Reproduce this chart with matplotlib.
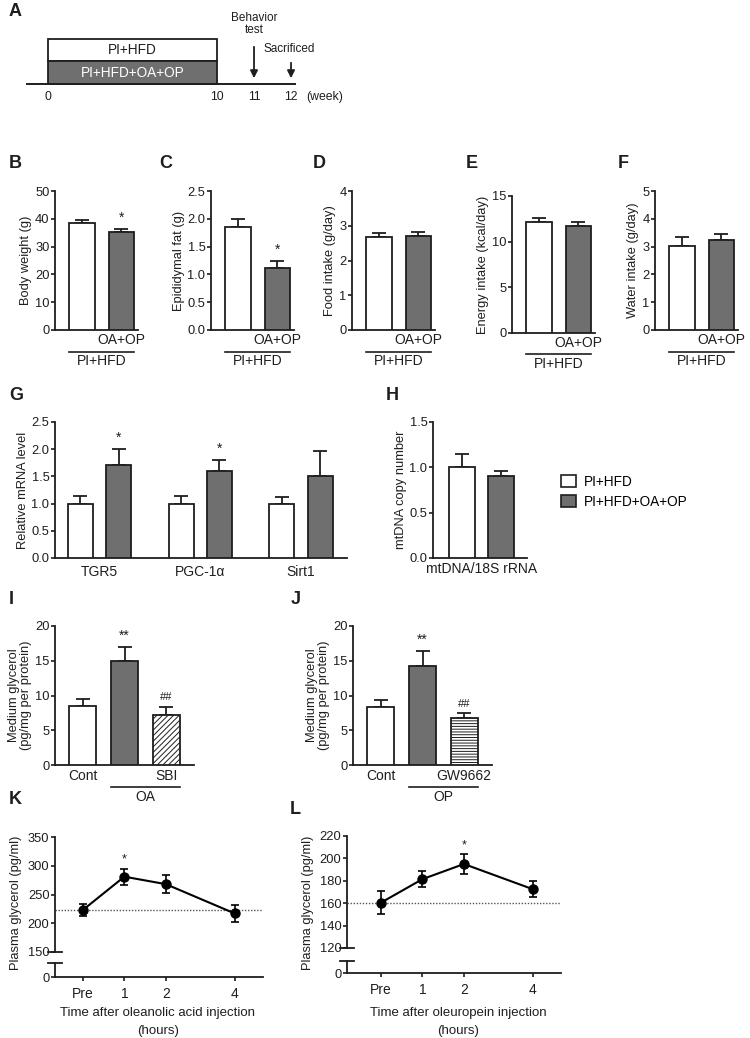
import numpy as np
import matplotlib
matplotlib.use('Agg')
import matplotlib.pyplot as plt
from matplotlib.patches import Rectangle, Patch

plt.rcParams['font.family'] = ['Liberation Sans', 'DejaVu Sans']
plt.rcParams['hatch.linewidth'] = 0.7

W, H = 750, 1038
EDGE = '#1e1e1e'
GRAY = '#6f6f6f'
TXT = '#1e1e1e'
FS_TICK = 9.3
FS_LBL = 9.3
FS_X = 10

# ---- data ----
groups = ['PI+HFD', 'PI+HFD+OA+OP']
timeline_weeks = ['0', '10', '11', '12']

body_weight, body_weight_err = [38.6, 35.3], [0.9, 1.0]
epi_fat, epi_fat_err = [1.86, 1.11], [0.14, 0.14]
food_intake, food_intake_err = [2.69, 2.71], [0.09, 0.10]
energy_intake, energy_intake_err = [12.2, 11.7], [0.37, 0.44]
water_intake, water_intake_err = [3.03, 3.24], [0.33, 0.21]

genes = ['TGR5', 'PGC-1α', 'Sirt1']
mrna_ctrl, mrna_ctrl_err = [1.0, 1.0, 1.0], [0.14, 0.14, 0.12]
mrna_trt, mrna_trt_err = [1.71, 1.60, 1.51], [0.29, 0.20, 0.46]
mrna_sig = ['*', '*', '']

mtdna, mtdna_err = [1.0, 0.90], [0.15, 0.06]

glyc_oa, glyc_oa_err = [8.5, 15.0, 7.2], [1.0, 2.0, 1.2]
glyc_oa_sig = ['', '**', '##']
glyc_op, glyc_op_err = [8.4, 14.3, 6.8], [0.95, 2.1, 0.65]
glyc_op_sig = ['', '**', '##']

time_labels = ['Pre', '1', '2', '4']
plasma_oa, plasma_oa_err = [223, 281, 268, 217], [10, 14, 16, 14.5]
plasma_oa_sig = ['', '*', '', '']
plasma_op, plasma_op_err = [160.5, 181.5, 195, 172.5], [10, 7, 9, 7]
plasma_op_sig = ['', '', '*', '']

fig = plt.figure(figsize=(7.5, 10.38), dpi=100)


def add_ax(l, t, r, b):
    return fig.add_axes([l / W, 1 - b / H, (r - l) / W, (b - t) / H])


def letter(x, y, s):
    fig.text(x / W, 1 - y / H, s, fontsize=13, fontweight='bold',
             ha='left', va='center', color=TXT)


def style(ax, bottom=True):
    for s in ['top', 'right']:
        ax.spines[s].set_visible(False)
    ax.spines['bottom'].set_visible(bottom)
    for s in ['left', 'bottom']:
        ax.spines[s].set_linewidth(1.3)
        ax.spines[s].set_color(EDGE)
    ax.tick_params(axis='y', length=3, width=1.2, color=EDGE,
                   labelsize=FS_TICK, pad=1, labelcolor=TXT)
    ax.tick_params(axis='x', length=0, labelsize=FS_X, pad=5, labelcolor=TXT)


def bars(ax, x, vals, errs, fills, hatches, sig, ylim, yticks, ylabel, xlim,
         fmt='{:g}', sig_off=None):
    b = ax.bar(x, vals, width=0.65, color=fills, edgecolor=EDGE,
               linewidth=1.3, zorder=3)
    for p, h in zip(b, hatches):
        if h:
            p.set_hatch(h)
    for xi, v, e in zip(x, vals, errs):
        ax.errorbar(xi, v, yerr=[[0], [e]], fmt='none', ecolor=EDGE,
                    elinewidth=1.3, capsize=5, capthick=1.3, zorder=2)
    off = sig_off if sig_off is not None else (ylim[1] - ylim[0]) * 0.03
    for xi, v, e, s in zip(x, vals, errs, sig):
        if s:
            fs = 8 if '#' in s else 10
            ax.text(xi, v + e + off, s, ha='center', va='bottom',
                    fontsize=fs, color=TXT)
    ax.set_ylim(*ylim)
    ax.set_yticks(yticks)
    ax.set_yticklabels([fmt.format(t) for t in yticks])
    ax.set_xlim(*xlim)
    ax.set_ylabel(ylabel, fontsize=FS_LBL, labelpad=2, color=TXT,
                  linespacing=1.0)
    style(ax)


def under_two(ax, top_lbl, bot_lbl):
    tr = ax.get_xaxis_transform()
    ax.set_xticks([])
    ax.text(1, -0.075, top_lbl, transform=tr, ha='center', va='center',
            fontsize=FS_X, color=TXT)
    ax.plot([-0.325, 1.325], [-0.155, -0.155], transform=tr, color=EDGE,
            lw=1.2, clip_on=False)
    ax.text(0.5, -0.225, bot_lbl, transform=tr, ha='center', va='center',
            fontsize=FS_X, color=TXT)


# ---- A: timeline ----
axA = add_ax(0, 0, 750, 110)
axA.axis('off')
px_per_week = 16.9
axA.set_xlim(-48 / px_per_week, (750 - 48) / px_per_week)
axA.set_ylim(110, 0)
week_pos = [0, 10, 12.19, 14.38]
axA.add_patch(Rectangle((0, 39), 10, 22, facecolor='white', edgecolor=EDGE, lw=1.3))
axA.add_patch(Rectangle((0, 61), 10, 23, facecolor=GRAY, edgecolor=EDGE, lw=1.3))
axA.text(5, 50, groups[0], ha='center', va='center', fontsize=9.8, color=TXT)
axA.text(5, 73, groups[1], ha='center', va='center', fontsize=9.8, color='white')
axA.plot([-1.24, 14.6], [84, 84], color=EDGE, lw=1.4)
for p, w in zip(week_pos, timeline_weeks):
    axA.text(p, 97, w, ha='center', va='center', fontsize=8.8, color=TXT)
axA.text(16.4, 97, '(week)', ha='center', va='center', fontsize=8.8, color=TXT)
axA.annotate('', xy=(week_pos[2], 81), xytext=(week_pos[2], 44),
             arrowprops=dict(arrowstyle='-|>', lw=1.3, color=EDGE, mutation_scale=11))
axA.annotate('', xy=(week_pos[3], 81), xytext=(week_pos[3], 60),
             arrowprops=dict(arrowstyle='-|>', lw=1.3, color=EDGE, mutation_scale=11))
axA.text(week_pos[2], 24, 'Behavior\ntest', ha='center', va='center',
         fontsize=8.5, linespacing=1.1, color=TXT)
axA.text(week_pos[3] - 0.1, 49, 'Sacrificed', ha='center', va='center',
         fontsize=8.5, color=TXT)
letter(9, 11, 'A')

# ---- B-F ----
two_x = [0, 1]
two_xlim = (-0.68, 1.42)
fills2 = ['white', GRAY]
no_hatch = ['', '']
small = [
    (55, 191, 330, body_weight, body_weight_err, ['', '*'], (0, 50),
     [0, 10, 20, 30, 40, 50], 'Body weight (g)', '{:g}', 'B', 9),
    (211, 191, 330, epi_fat, epi_fat_err, ['', '*'], (0, 2.5),
     [0, 0.5, 1.0, 1.5, 2.0, 2.5], 'Epididymal fat (g)', '{:.1f}', 'C', 159),
    (352, 191, 330, food_intake, food_intake_err, ['', ''], (0, 4),
     [0, 1, 2, 3, 4], 'Food intake (g/day)', '{:g}', 'D', 313),
    (512, 196, 333, energy_intake, energy_intake_err, ['', ''], (0, 15),
     [0, 5, 10, 15], 'Energy intake (kcal/day)', '{:g}', 'E', 466),
    (655, 191, 330, water_intake, water_intake_err, ['', ''], (0, 5),
     [0, 1, 2, 3, 4, 5], 'Water intake (g/day)', '{:g}', 'F', 618),
]
for l, t, b, v, e, sig, yl, yt, lab, fmt, let, lx in small:
    ax = add_ax(l, t, l + 83, b)
    bars(ax, two_x, v, e, fills2, no_hatch, sig, yl, yt, lab, two_xlim, fmt)
    under_two(ax, 'OA+OP', 'PI+HFD')
    letter(lx, 163, let)

# ---- G ----
axG = add_ax(55, 422, 347, 558)
gap = 2.62
gx = np.arange(len(genes)) * gap
bars(axG, gx, mrna_ctrl, mrna_ctrl_err, ['white'] * 3, [''] * 3, [''] * 3,
     (0, 2.5), [0, 0.5, 1.0, 1.5, 2.0, 2.5], 'Relative mRNA level',
     (-0.66, gx[-1] + 1.7), '{:.1f}')
bars(axG, gx + 1, mrna_trt, mrna_trt_err, [GRAY] * 3, [''] * 3, mrna_sig,
     (0, 2.5), [0, 0.5, 1.0, 1.5, 2.0, 2.5], 'Relative mRNA level',
     (-0.66, gx[-1] + 1.7), '{:.1f}')
axG.set_xticks(gx + 0.5)
axG.set_xticklabels(genes)
letter(9, 395, 'G')

# ---- H ----
axH = add_ax(433, 422, 527, 558)
bars(axH, two_x, mtdna, mtdna_err, fills2, no_hatch, ['', ''], (0, 1.5),
     [0, 0.5, 1.0, 1.5], 'mtDNA copy number', (-0.73, 1.65), '{:.1f}')
axH.set_xticks([0.5])
axH.set_xticklabels(['mtDNA/18S rRNA'])
axH.tick_params(axis='x', pad=3)
letter(386, 395, 'H')
handles = [Patch(facecolor=f, edgecolor=EDGE, lw=1.2) for f in fills2]
fig.legend(handles, groups, loc='upper left',
           bbox_to_anchor=(554 / W, 1 - 468 / H), frameon=False,
           fontsize=9.8, handlelength=1.1, handleheight=0.95,
           handletextpad=0.6, labelspacing=0.45, borderpad=0)

# ---- I, J ----
three_x = [0, 1, 2]
for l, v, e, sig, hat, lbl2, grp, let, lx, ly in [
        (55, glyc_oa, glyc_oa_err, glyc_oa_sig, '//////', 'SBI', 'OA', 'I', 9, 600),
        (353, glyc_op, glyc_op_err, glyc_op_sig, '------', 'GW9662', 'OP', 'J', 291, 600)]:
    ax = add_ax(l, 626, l + 139, 765)
    bars(ax, three_x, v, e, ['white', GRAY, 'white'], ['', '', hat], sig,
         (0, 20), [0, 5, 10, 15, 20],
         'Medium glycerol\n(pg/mg per protein)', (-0.67, 2.67), '{:g}',
         sig_off=0.6)
    ax.set_xticks([0, 2])
    ax.set_xticklabels(['Cont', lbl2])
    ax.tick_params(axis='x', pad=3)
    tr = ax.get_xaxis_transform()
    ax.plot([0.675, 2.325], [-0.158, -0.158], transform=tr, color=EDGE,
            lw=1.2, clip_on=False)
    ax.text(1.5, -0.23, grp, transform=tr, ha='center', va='center',
            fontsize=FS_X, color=TXT)
    letter(lx, ly, let)

# ---- K, L ----
t_pos = [0, 1, 2, 3.66]
for l, t, br, lo_t, b, right, v, e, sig, yl, yt, base, xl1, xcen, let, ly, left_off in [
        (55, 837, 952, 963, 977, 263, plasma_oa, plasma_oa_err, plasma_oa_sig,
         (150, 350), [150, 200, 250, 300, 350], 223,
         'Time after oleanolic acid injection', 158, 'K', 799, 0.67),
        (347, 836, 948, 961, 973, 561, plasma_op, plasma_op_err, plasma_op_sig,
         (120, 220), [120, 140, 160, 180, 200, 220], 160,
         'Time after oleuropein injection', 458, 'L', 810, 0.82)]:
    xlim = (-left_off, 4.34)
    up = add_ax(l, t, right, br)
    lo = add_ax(l, lo_t, right, b)
    style(up, bottom=False)
    style(lo)
    up.set_xlim(*xlim)
    lo.set_xlim(*xlim)
    up.set_xticks([])
    up.set_ylim(*yl)
    up.set_yticks(yt)
    lo.set_ylim(0, 1)
    lo.set_yticks([0])
    lo.set_xticks(t_pos)
    lo.set_xticklabels(time_labels)
    lo.tick_params(axis='x', length=3, width=1.2, color=EDGE, pad=4,
                   labelsize=FS_X)
    for a, yy in [(up, 0), (lo, 1)]:
        a.plot([-0.035, 0.035], [yy, yy], transform=a.transAxes,
               color=EDGE, lw=1.3, clip_on=False)
    up.axhline(base, ls=(0, (1, 1.2)), color='#555555', lw=1, zorder=1)
    up.errorbar(t_pos, v, yerr=e, fmt='-o', color='black', ms=6.5, lw=1.5,
                elinewidth=1.2, capsize=3, capthick=1.2, zorder=3)
    rng = yl[1] - yl[0]
    for xi, vi, ei, s in zip(t_pos, v, e, sig):
        if s:
            up.text(xi, vi + ei + rng * 0.025, s, ha='center', va='bottom',
                    fontsize=9, color=TXT)
    fig.text((l - 39) / W, 1 - 903 / H, 'Plasma glycerol (pg/ml)',
             rotation=90, ha='center', va='center', fontsize=FS_LBL, color=TXT)
    fig.text(xcen / W, 1 - 1013 / H, xl1, ha='center', va='center',
             fontsize=9.5, color=TXT)
    fig.text(xcen / W, 1 - 1031 / H, '(hours)', ha='center', va='center',
             fontsize=9.5, color=TXT)
    letter(9 if let == 'K' else 290, ly, let)

fig.savefig('out.png', dpi=100)
